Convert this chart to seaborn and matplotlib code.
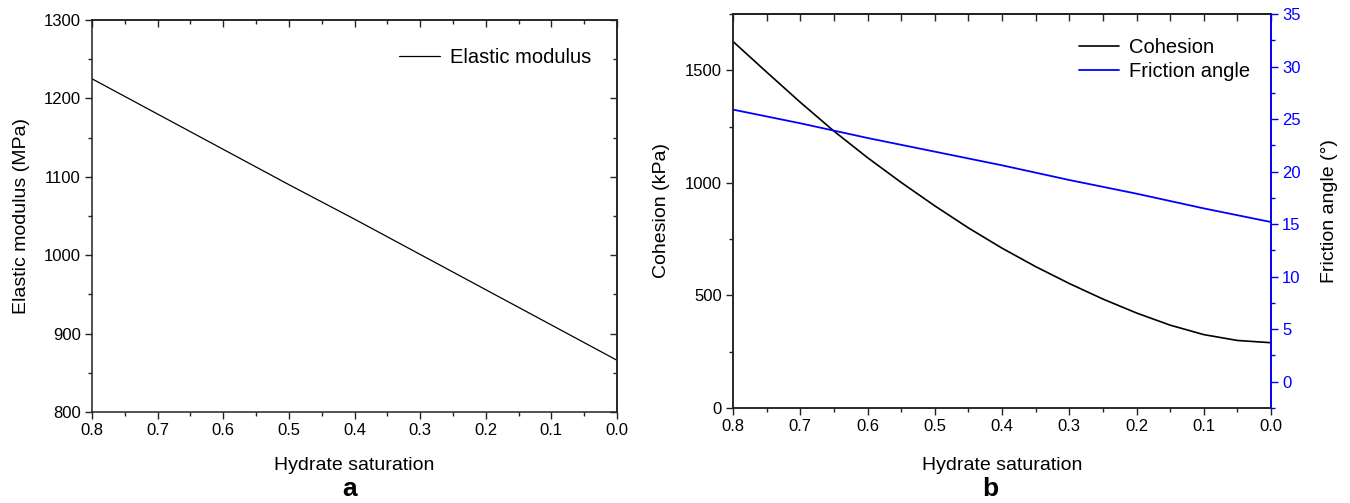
import numpy as np
import pandas as pd
import matplotlib
matplotlib.use("Agg")
import matplotlib.pyplot as plt
from matplotlib.ticker import MultipleLocator
import seaborn as sns

# ---- data ----
sat_a = [0.8, 0.7, 0.6, 0.5, 0.4, 0.3, 0.2, 0.1, 0.0]
elastic_modulus = [1225, 1180, 1135, 1090, 1046, 1001, 956, 911, 866]

sat_b = [0.80, 0.75, 0.70, 0.65, 0.60, 0.55, 0.50, 0.45, 0.40,
         0.35, 0.30, 0.25, 0.20, 0.15, 0.10, 0.05, 0.00]
cohesion = [1628, 1492, 1358, 1230, 1112, 1002, 898, 800, 710,
            628, 553, 484, 422, 368, 326, 300, 290]

sat_f = [0.8, 0.7, 0.6, 0.5, 0.4, 0.3, 0.2, 0.1, 0.0]
friction = [25.9, 24.6, 23.2, 21.9, 20.6, 19.2, 17.9, 16.5, 15.2]

xticks = [0.8, 0.7, 0.6, 0.5, 0.4, 0.3, 0.2, 0.1, 0.0]
xticklabels = ["0.8", "0.7", "0.6", "0.5", "0.4", "0.3", "0.2", "0.1", "0.0"]

sns.set_theme(style="ticks")
plt.rcParams["font.family"] = ["Liberation Sans", "DejaVu Sans"]
plt.rcParams["axes.linewidth"] = 1.1
plt.rcParams["axes.edgecolor"] = "#222222"
plt.rcParams["text.color"] = "black"
plt.rcParams["axes.labelcolor"] = "black"
plt.rcParams["xtick.labelcolor"] = "black"
plt.rcParams["ytick.labelcolor"] = "black"

BLUE = "#0000FF"
TICK_FS = 12
LABEL_FS = 14
LEG_FS = 14.5

fig = plt.figure(figsize=(13.5, 5.03), dpi=100)
W, H = 1350, 503

def add_axes_px(l, r, t, b):
    return fig.add_axes([l / W, (H - b) / H, (r - l) / W, (b - t) / H])

def style_ticks(ax, axis, direction, color="#222222"):
    ax.tick_params(axis=axis, which="major", direction=direction, length=5,
                   width=1.0, color=color, labelsize=TICK_FS, labelcolor="black", pad=3)
    ax.tick_params(axis=axis, which="minor", direction=direction, length=3,
                   width=1.0, color=color)

# ================= panel a =================
axa = add_axes_px(92, 617, 20, 412)
df_a = pd.DataFrame({"sat": sat_a, "E": elastic_modulus})
sns.lineplot(data=df_a, x="sat", y="E", ax=axa, color="black", lw=0.9,
             label="Elastic modulus")
axa.set_xlim(0.8, 0.0)
axa.set_ylim(800, 1300)
axa.set_xticks(xticks)
axa.set_xticklabels(xticklabels)
axa.xaxis.set_minor_locator(MultipleLocator(0.05))
axa.yaxis.set_major_locator(MultipleLocator(100))
axa.yaxis.set_minor_locator(MultipleLocator(50))
style_ticks(axa, "both", "out")
axa.set_xlabel("Hydrate saturation", fontsize=LABEL_FS)
axa.set_ylabel("Elastic modulus (MPa)", fontsize=LABEL_FS)
axa.xaxis.set_label_coords(0.5, -0.115)
axa.yaxis.set_label_coords(-0.118, 0.5)
leg = axa.legend(loc="upper right", bbox_to_anchor=(0.985, 0.975), frameon=False,
                 fontsize=LEG_FS, handlelength=2.0, handletextpad=0.5)

# inward ticks on top and right
sec_top = axa.secondary_xaxis("top")
sec_top.set_xticks(xticks)
sec_top.xaxis.set_minor_locator(MultipleLocator(0.05))
sec_top.tick_params(which="major", direction="in", length=5, width=1.0, labeltop=False)
sec_top.tick_params(which="minor", direction="in", length=3, width=1.0)
sec_right = axa.secondary_yaxis("right")
sec_right.yaxis.set_major_locator(MultipleLocator(100))
sec_right.yaxis.set_minor_locator(MultipleLocator(50))
sec_right.tick_params(which="major", direction="in", length=5, width=1.0, labelright=False)
sec_right.tick_params(which="minor", direction="in", length=3, width=1.0)

# ================= panel b =================
axb = add_axes_px(733, 1271, 14, 408)
df_b = pd.DataFrame({"sat": sat_b, "c": cohesion})
sns.lineplot(data=df_b, x="sat", y="c", ax=axb, color="black", lw=1.2,
             label="Cohesion", legend=False)
axb.set_xlim(0.8, 0.0)
axb.set_ylim(0, 1750)
axb.set_xticks(xticks)
axb.set_xticklabels(xticklabels)
axb.xaxis.set_minor_locator(MultipleLocator(0.05))
axb.yaxis.set_major_locator(MultipleLocator(500))
axb.yaxis.set_minor_locator(MultipleLocator(250))
style_ticks(axb, "both", "out")
axb.set_xlabel("Hydrate saturation", fontsize=LABEL_FS)
axb.set_ylabel("Cohesion (kPa)", fontsize=LABEL_FS)
axb.xaxis.set_label_coords(0.5, -0.124)
axb.yaxis.set_label_coords(-0.117, 0.5)

sec_top_b = axb.secondary_xaxis("top")
sec_top_b.set_xticks(xticks)
sec_top_b.xaxis.set_minor_locator(MultipleLocator(0.05))
sec_top_b.tick_params(which="major", direction="in", length=5, width=1.0, labeltop=False)
sec_top_b.tick_params(which="minor", direction="in", length=5, width=1.0)

axf = axb.twinx()
df_f = pd.DataFrame({"sat": sat_f, "phi": friction})
sns.lineplot(data=df_f, x="sat", y="phi", ax=axf, color=BLUE, lw=1.3,
             label="Friction angle", legend=False)
axf.set_xlim(0.8, 0.0)
axf.set_ylim(-2.5, 35)
axf.yaxis.set_major_locator(MultipleLocator(5))
axf.yaxis.set_minor_locator(MultipleLocator(2.5))
axf.tick_params(axis="y", which="major", direction="out", length=5, width=1.0,
                color=BLUE, labelcolor=BLUE, labelsize=TICK_FS, pad=3)
axf.tick_params(axis="y", which="minor", direction="out", length=3, width=1.0, color=BLUE)
axf.spines["right"].set_color(BLUE)
axf.spines["right"].set_linewidth(1.3)
axf.set_ylabel("Friction angle (°)", fontsize=LABEL_FS)
axf.yaxis.set_label_coords(1.093, 0.5)

h1, l1 = axb.get_legend_handles_labels()
h2, l2 = axf.get_legend_handles_labels()
axf.legend(h1 + h2, l1 + l2, loc="upper right", bbox_to_anchor=(0.995, 0.985),
           frameon=False, fontsize=LEG_FS, handlelength=2.0, handletextpad=0.5,
           labelspacing=0.25)

fig.text(350 / W, 1 - 489 / H, "a", ha="center", va="center", fontsize=19, fontweight="bold")
fig.text(990 / W, 1 - 489 / H, "b", ha="center", va="center", fontsize=19, fontweight="bold")

fig.savefig("out.png", dpi=100)
